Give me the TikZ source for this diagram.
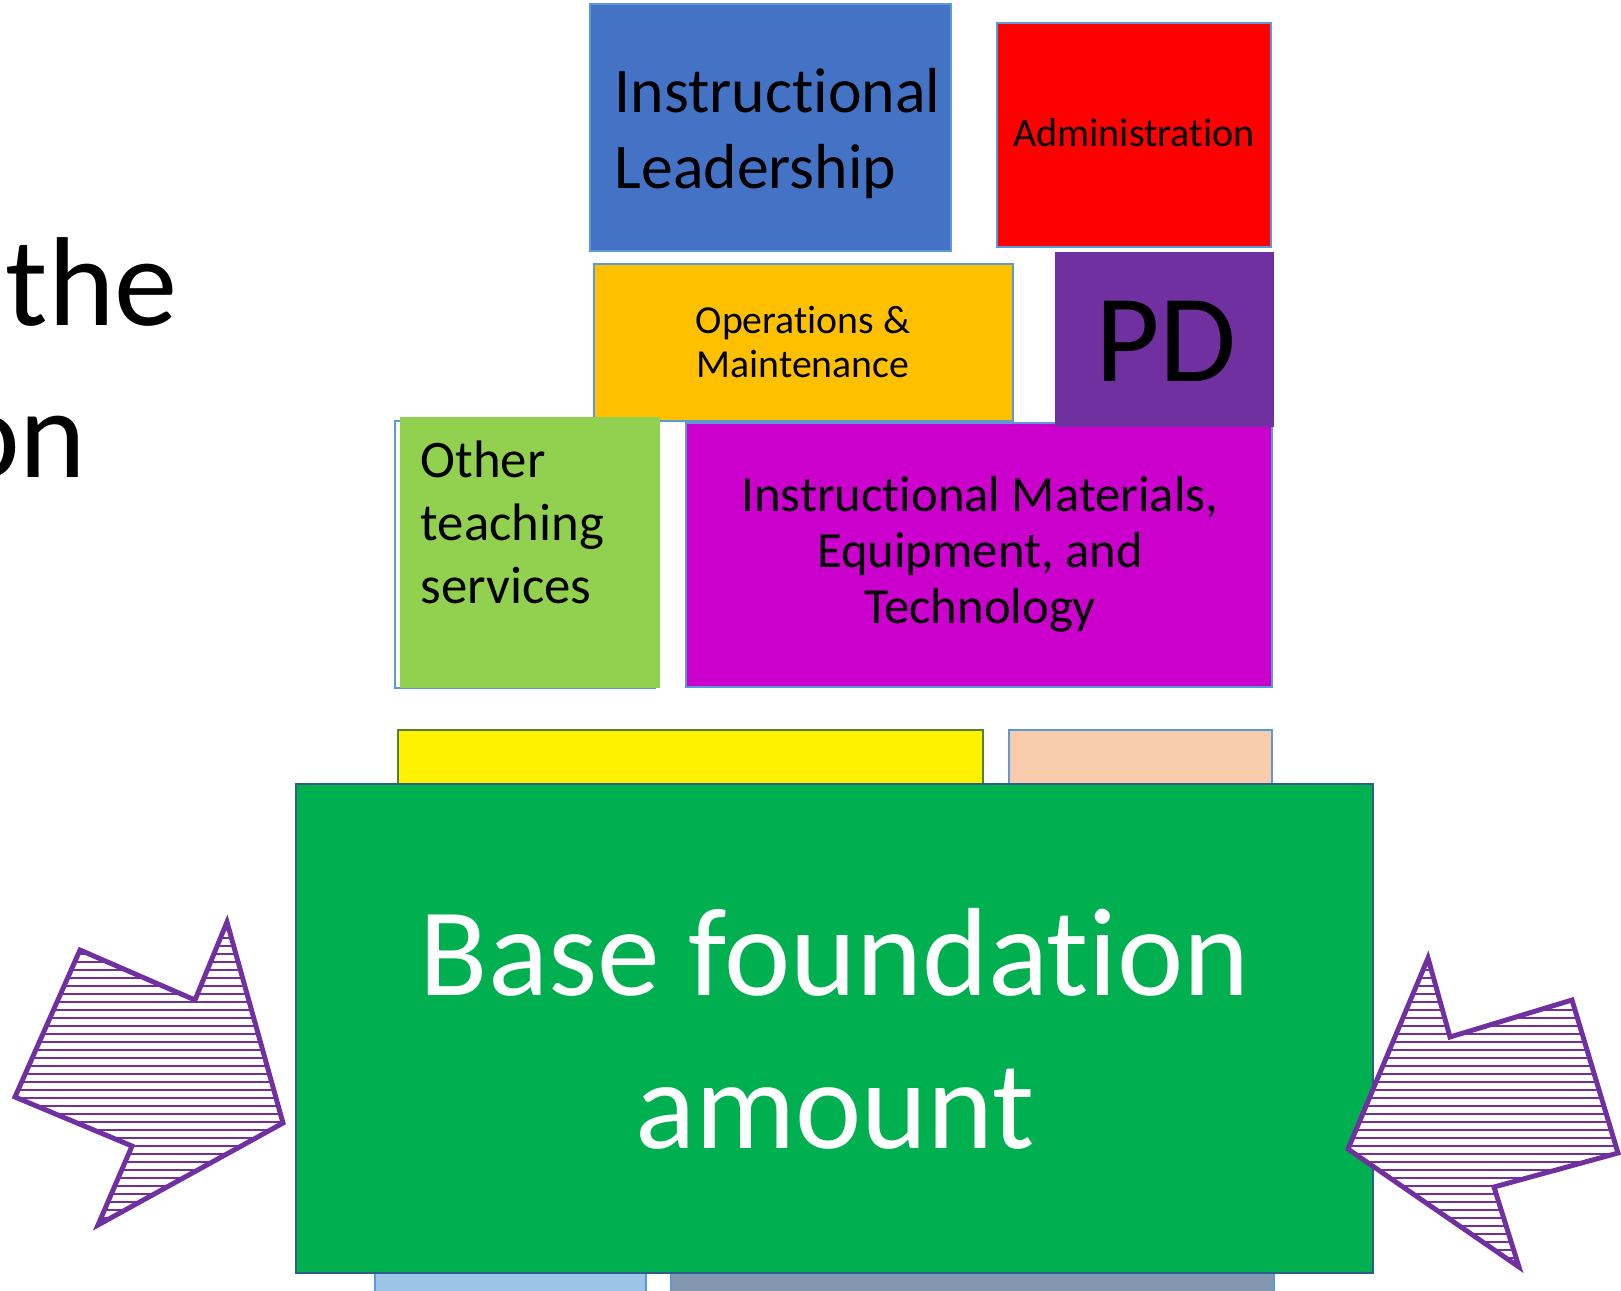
\documentclass[tikz,border=0pt]{standalone}
\usepackage{fontspec}
\setmainfont{Carlito}[Ligatures=CommonOff]
\usepackage{tikz}

\definecolor{ilblue}{HTML}{4472C4}
\definecolor{edgeblue}{HTML}{5B9BD5}
\definecolor{admred}{HTML}{FF0000}
\definecolor{opsgold}{HTML}{FFC000}
\definecolor{pdpurple}{HTML}{7030A0}
\definecolor{othgreen}{HTML}{92D050}
\definecolor{matmagenta}{HTML}{CC00CC}
\definecolor{peach}{HTML}{F8CBAD}
\definecolor{basegreen}{HTML}{00B050}
\definecolor{baseedge}{HTML}{2F5C8A}
\definecolor{yellowedge}{HTML}{56803A}
\definecolor{lowblue}{HTML}{9DC3E6}
\definecolor{lowgray}{HTML}{8497B0}

\newcommand{\fs}[2]{\fontsize{#1}{#2}\selectfont}

\begin{document}
\begin{tikzpicture}[x=0.01cm, y=-0.01cm,
    blk/.style={draw=edgeblue, line width=0.6pt},
    lbl/.style={inner sep=0pt, text=black},
    hatchline/.style={pdpurple, line width=0.55pt},
    arrowedge/.style={draw=pdpurple, line width=1.4pt, line join=miter}]

    \useasboundingbox (0,0) rectangle (1621,1290);

    % Title fragments cut off at the left edge
    \node[lbl, anchor=base west, font=\fs{36}{42}] (wthe) at (5,325) {the};
    \node[lbl, anchor=base east, font=\fs{36}{42}] (won) at (87,477) {on};

    % Top row: Instructional Leadership and Administration
    \draw[blk, fill=ilblue] (590,4) rectangle (951,251);
    \node[lbl, anchor=base west, align=left, font=\fs{18.1}{21.6}] (instlead) at (614,188) {Instructional\\Leadership};
    \draw[blk, fill=admred] (997,23) rectangle (1271,247);
    \node[lbl, anchor=base, font=\fs{11.4}{13}] (admin) at (1134,146) {Administration};

    % Second row: Operations & Maintenance
    \draw[blk, fill=opsgold] (594,264) rectangle (1013,421);
    \node[lbl, anchor=base, align=center, font=\fs{11.3}{12.5}] (ops) at (803,377) {Operations \&\\Maintenance};

    % Third row: Other teaching services and Instructional Materials
    \draw[blk] (395,421) rectangle (655,688);
    \fill[othgreen] (400,417) rectangle (660,688);
    \node[lbl, anchor=base west, align=left, font=\fs{15}{17.9}] (other) at (420,603) {Other\\teaching\\services};
    \draw[blk, fill=matmagenta] (686,423) rectangle (1272,687);
    \node[lbl, anchor=base, align=center, font=\fs{14.4}{15.8}] (materials) at (980,623) {Instructional Materials,\\Equipment, and\\Technology};

    % PD block sits over the corner of the magenta block
    \fill[pdpurple] (1055,252) rectangle (1274,427);
    \node[lbl, anchor=base, font=\fs{35.6}{40}] (pd) at (1166,381) {PD};

    % Blocks partly hidden behind the base
    \draw[draw=yellowedge, line width=0.8pt, fill=yellow] (398,730) rectangle (983,800);
    \draw[blk, fill=peach] (1009,730) rectangle (1272,800);
    \draw[blk, fill=lowblue] (375,1260) rectangle (646,1300);
    \draw[blk, fill=lowgray] (671,1260) rectangle (1274,1300);

    % Base foundation amount
    \draw[draw=baseedge, line width=0.8pt, fill=basegreen] (296,784) rectangle (1373,1273);
    \node[lbl, anchor=base, align=center, text=white, font=\fs{35.7}{43.5}] (base) at (835,1148) {Base foundation\\amount};

    % Left arrow, hatched
    \fill[white] (80,950) -- (195,1000) -- (227,922) -- (283,1123) -- (98,1225) -- (132,1146) -- (15,1097) -- cycle;
    \begin{scope}
        \clip (80,950) -- (195,1000) -- (227,922) -- (283,1123) -- (98,1225) -- (132,1146) -- (15,1097) -- cycle;
        \foreach \y in {914,922,...,1226}
            \draw[hatchline] (0,\y) -- (300,\y);
    \end{scope}
    \draw[arrowedge] (80,950) -- (195,1000) -- (227,922) -- (283,1123) -- (98,1225) -- (132,1146) -- (15,1097) -- cycle;

    % Right arrow, hatched
    \fill[white] (1428,958) -- (1450,1037) -- (1572,1000) -- (1618,1153) -- (1494,1187) -- (1519,1267) -- (1348,1149) -- cycle;
    \begin{scope}
        \clip (1428,958) -- (1450,1037) -- (1572,1000) -- (1618,1153) -- (1494,1187) -- (1519,1267) -- (1348,1149) -- cycle;
        \foreach \y in {962,970,...,1266}
            \draw[hatchline] (1330,\y) -- (1621,\y);
    \end{scope}
    \draw[arrowedge] (1428,958) -- (1450,1037) -- (1572,1000) -- (1618,1153) -- (1494,1187) -- (1519,1267) -- (1348,1149) -- cycle;
\end{tikzpicture}
\end{document}
